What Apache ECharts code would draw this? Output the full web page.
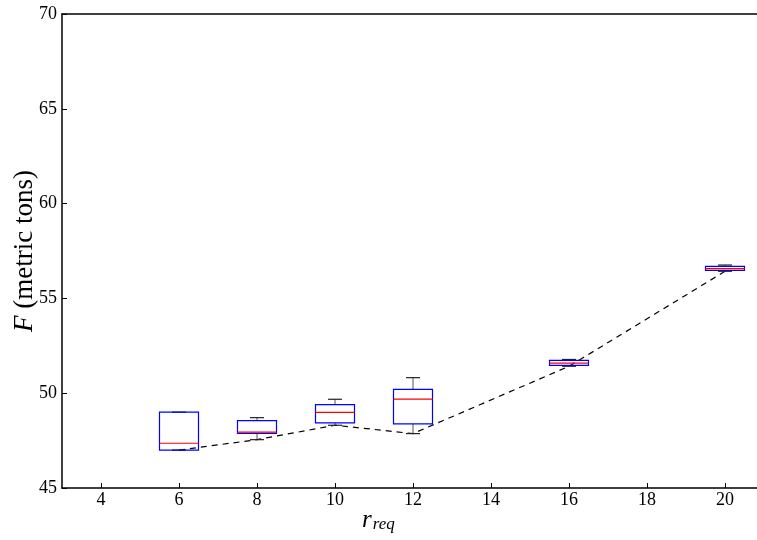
<!DOCTYPE html>
<html>
<head>
<meta charset="utf-8">
<script src="https://cdn.jsdelivr.net/npm/echarts@6/dist/echarts.min.js"></script>
<style>html,body{margin:0;padding:0;background:#fff}#c{width:757px;height:540px}</style>
</head>
<body>
<div id="c"></div>
<script>
const positions = [6, 8, 10, 12, 16, 20];
const minV = [47.0, 47.55, 48.31, 47.87, 51.42, 56.43];
const q1V  = [47.0, 47.88, 48.43, 48.38, 51.47, 56.48];
const medV = [47.36, 47.95, 48.99, 49.69, 51.59, 56.57];
const q3V  = [49.0, 48.55, 49.4, 50.2, 51.73, 56.69];
const maxV = [49.0, 48.71, 49.68, 50.82, 51.78, 56.76];
const xTicks = [4, 6, 8, 10, 12, 14, 16, 18, 20];

const boxData = positions.map((p, i) => [p, minV[i], q1V[i], medV[i], q3V[i], maxV[i]]);
const lineData = positions.map((p, i) => [p, minV[i]]);

const chart = echarts.init(document.getElementById('c'));
const serif = 'Liberation Serif';
chart.setOption({
  animation: false,
  backgroundColor: '#fff',
  grid: {left: 62, top: 14, width: 702, height: 474, containLabel: false, outerBoundsMode: 'none'},
  xAxis: [{
    type: 'value', min: 3, max: 21, position: 'bottom',
    axisLine: {show: true, onZero: false, lineStyle: {color: '#000', width: 1.5}},
    axisTick: {show: true, inside: true, length: 5, customValues: xTicks, lineStyle: {color: '#000'}},
    axisLabel: {customValues: xTicks, fontFamily: serif, fontSize: 18, color: '#000', margin: 3},
    splitLine: {show: false}
  }, {
    type: 'value', min: 3, max: 21, position: 'top',
    axisLine: {show: true, onZero: false, lineStyle: {color: '#000', width: 1.5}},
    axisTick: {show: false}, axisLabel: {show: false}, splitLine: {show: false}
  }],
  yAxis: [{
    type: 'value', min: 45, max: 70, interval: 5,
    axisLine: {show: true, onZero: false, lineStyle: {color: '#000', width: 1.5}},
    axisTick: {show: true, inside: true, length: 5, lineStyle: {color: '#000'}},
    axisLabel: {fontFamily: serif, fontSize: 18, color: '#000', margin: 5},
    splitLine: {show: false},
    name: '{i|F} (metric tons)', nameLocation: 'middle', nameRotate: 90, nameGap: 24,
    nameMoveOverlap: false,
    nameTextStyle: {fontFamily: serif, fontSize: 27, color: '#000',
      rich: {i: {fontFamily: serif, fontStyle: 'italic', fontSize: 27, color: '#000'}}}
  }],
  graphic: [{
    type: 'text', left: 362, top: 508,
    style: {
      text: '{r|r}{s|req}', fontFamily: serif,
      rich: {
        r: {fontFamily: serif, fontStyle: 'italic', fontSize: 25, color: '#000', verticalAlign: 'bottom'},
        s: {fontFamily: serif, fontStyle: 'italic', fontSize: 17, color: '#000', padding: [9, 0, 0, 1], verticalAlign: 'bottom'}
      }
    }
  }],
  series: [{
    type: 'line', data: lineData, symbol: 'none', z: 2,
    lineStyle: {color: '#000', width: 1.2, type: [6, 5]}
  }, {
    type: 'custom', data: boxData, z: 3,
    renderItem: function (params, api) {
      const x = api.value(0);
      const lo = api.coord([x, api.value(1)]);
      const q1 = api.coord([x, api.value(2)]);
      const md = api.coord([x, api.value(3)]);
      const q3 = api.coord([x, api.value(4)]);
      const hi = api.coord([x, api.value(5)]);
      const hw = api.size([1, 0])[0] / 2;
      const cw = api.size([0.36, 0])[0] / 2;
      const cx = lo[0];
      return {
        type: 'group',
        children: [
          {type: 'line', shape: {x1: cx, y1: lo[1], x2: cx, y2: q1[1]}, style: {stroke: '#555', lineWidth: 1}},
          {type: 'line', shape: {x1: cx, y1: q3[1], x2: cx, y2: hi[1]}, style: {stroke: '#555', lineWidth: 1}},
          {type: 'line', shape: {x1: cx - cw, y1: lo[1], x2: cx + cw, y2: lo[1]}, style: {stroke: '#222', lineWidth: 1.2}},
          {type: 'line', shape: {x1: cx - cw, y1: hi[1], x2: cx + cw, y2: hi[1]}, style: {stroke: '#222', lineWidth: 1.2}},
          {type: 'rect', shape: {x: cx - hw, y: q3[1], width: 2 * hw, height: q1[1] - q3[1]}, style: {fill: 'none', stroke: '#0000ff', lineWidth: 1.2}},
          {type: 'line', shape: {x1: cx - hw, y1: md[1], x2: cx + hw, y2: md[1]}, style: {stroke: '#ff0000', lineWidth: 1.2}}
        ]
      };
    }
  }]
});
</script>
</body>
</html>
